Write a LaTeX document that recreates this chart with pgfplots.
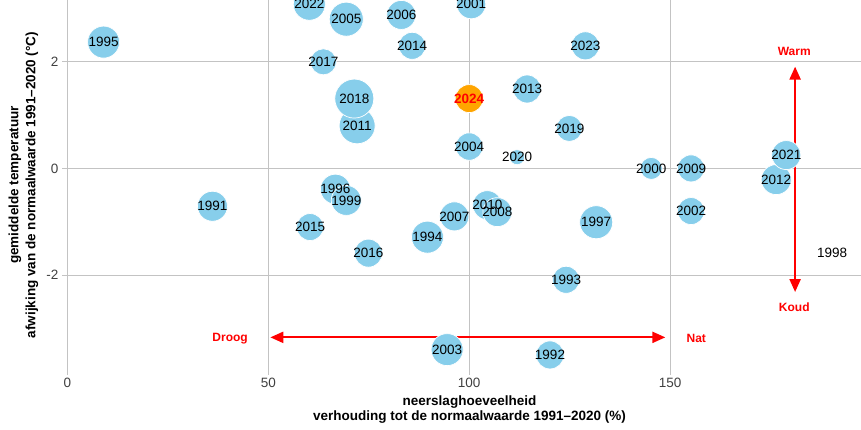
\documentclass[border=0pt]{standalone}
\usepackage{pgfplots}
\pgfplotsset{compat=1.18}
\usepackage{pgfplotstable}
\usetikzlibrary{arrows.meta}
\usepackage{fontspec}
\setmainfont{Liberation Sans}
\definecolor{sky}{RGB}{135,206,235}
\definecolor{grd}{RGB}{195,195,195}
\definecolor{orng}{RGB}{255,165,0}

\pgfplotstableread{
x y r lab
9.0 2.37 16 1995
60.2 3.08 16 2022
69.4 2.80 17 2005
83.1 2.88 14.5 2006
100.5 3.08 14.5 2001
85.8 2.30 13.5 2014
128.9 2.30 14 2023
63.7 2.00 13 2017
72.1 0.80 18 2011
71.4 1.31 19.5 2018
114.4 1.49 14 2013
124.9 0.75 13 2019
100.0 0.41 13.7 2004
111.9 0.21 7.5 2020
145.3 0.00 11 2000
155.2 0.00 13.5 2009
176.4 -0.21 15 2012
178.9 0.25 14.5 2021
36.1 -0.71 15 1991
66.7 -0.39 15 1996
69.4 -0.60 15 1999
60.4 -1.10 13.5 2015
74.9 -1.59 14 2016
89.6 -1.29 16 1994
96.3 -0.90 14.5 2007
104.5 -0.69 14.5 2010
107.0 -0.82 14.5 2008
131.6 -1.01 16.5 1997
155.2 -0.80 13.5 2002
124.1 -2.09 13.5 1993
190.3 -1.59 1 1998
94.5 -3.40 16 2003
120.1 -3.50 14 1992
}\bubbles

\pgfplotstableread{
x y r lab
100.0 1.31 14 2024
}\cur

\newcommand\bub[4][sky]{%
  \addplot[only marks, mark=*, mark size=#4pt,
    mark options={draw=white, fill=#1, line width=0.7pt}] coordinates {(#2,#3)};}

\begin{document}
\begin{tikzpicture}
\useasboundingbox (-65pt,-57pt) rectangle (796pt,372pt);
\begin{axis}[
  scale only axis, width=796pt, height=372pt,
  at={(0,0)}, anchor=south west,
  xmin=-0.6, xmax=197.5, ymin=-3.82, ymax=3.16,
  axis line style={draw=none},
  xtick={0,50,100,150}, ytick={-2,0,2},
  xtick pos=lower, ytick pos=left,
  tick align=outside, major tick length=3pt,
  tick style={grd, line width=0.8pt},
  grid=major, grid style={grd, line width=0.8pt},
  /pgf/number format/assume math mode=true,
  tick label style={font=\fontsize{13.5}{15}\selectfont, text=black!75},
  clip=false,
]
\bub{9.0}{2.37}{16}
\bub{60.2}{3.08}{16}
\bub{69.4}{2.80}{17}
\bub{83.1}{2.88}{14.5}
\bub{100.5}{3.08}{14.5}
\bub{85.8}{2.30}{13.5}
\bub{128.9}{2.30}{14}
\bub{63.7}{2.00}{13}
\bub{72.1}{0.80}{18}
\bub{71.4}{1.31}{19.5}
\bub{114.4}{1.49}{14}
\bub{124.9}{0.75}{13}
\bub{100.0}{0.41}{13.7}
\bub{111.9}{0.21}{7.5}
\bub{145.3}{0.00}{11}
\bub{155.2}{0.00}{13.5}
\bub{176.4}{-0.21}{15}
\bub{178.9}{0.25}{14.5}
\bub{36.1}{-0.71}{15}
\bub{66.7}{-0.39}{15}
\bub{69.4}{-0.60}{15}
\bub{60.4}{-1.10}{13.5}
\bub{74.9}{-1.59}{14}
\bub{89.6}{-1.29}{16}
\bub{96.3}{-0.90}{14.5}
\bub{104.5}{-0.69}{14.5}
\bub{107.0}{-0.82}{14.5}
\bub{131.6}{-1.01}{16.5}
\bub{155.2}{-0.80}{13.5}
\bub{124.1}{-2.09}{13.5}
\bub{190.3}{-1.59}{1}
\bub{94.5}{-3.40}{16}
\bub{120.1}{-3.50}{14}
\bub[orng]{100.0}{1.31}{14}

\addplot[only marks, mark=none, point meta=explicit symbolic,
  nodes near coords, nodes near coords align=center,
  every node near coord/.append style={anchor=center, font=\fontsize{13.5}{15}\selectfont, text=black, inner sep=0pt},
] table[x=x, y=y, meta=lab] {\bubbles};
\addplot[only marks, mark=none, point meta=explicit symbolic,
  nodes near coords, nodes near coords align=center,
  every node near coord/.append style={anchor=center, font=\bfseries\fontsize{13.5}{15}\selectfont, text=red, inner sep=0pt},
] table[x=x, y=y, meta=lab] {\cur};

\draw[red, line width=2.2pt, {Triangle[length=13pt,width=11pt]}-{Triangle[length=13pt,width=11pt]}]
  (axis cs:50.5,-3.17) -- (axis cs:148.8,-3.17);
\draw[red, line width=2.2pt, {Triangle[length=13pt,width=11pt]}-{Triangle[length=13pt,width=11pt]}]
  (axis cs:181.1,1.91) -- (axis cs:181.1,-2.32);
\node[red, font=\bfseries\fontsize{12}{14}\selectfont] at (axis cs:40.5,-3.19) {Droog};
\node[red, font=\bfseries\fontsize{12}{14}\selectfont] at (axis cs:156.5,-3.19) {Nat};
\node[red, font=\bfseries\fontsize{12}{14}\selectfont] at (axis cs:180.9,2.19) {Warm};
\node[red, font=\bfseries\fontsize{12}{14}\selectfont] at (axis cs:180.9,-2.60) {Koud};
\end{axis}
\node[align=center, font=\bfseries\fontsize{13.5}{15}\selectfont] at (404.5pt,-37.5pt)
  {neerslaghoeveelheid\\verhouding tot de normaalwaarde 1991–2020 (\%)};
\node[rotate=90, align=center, font=\bfseries\fontsize{13.5}{17}\selectfont] at (-41.5pt,187pt)
  {gemiddelde temperatuur\\afwijking van de normaalwaarde 1991–2020 (°C)};
\end{tikzpicture}
\end{document}
